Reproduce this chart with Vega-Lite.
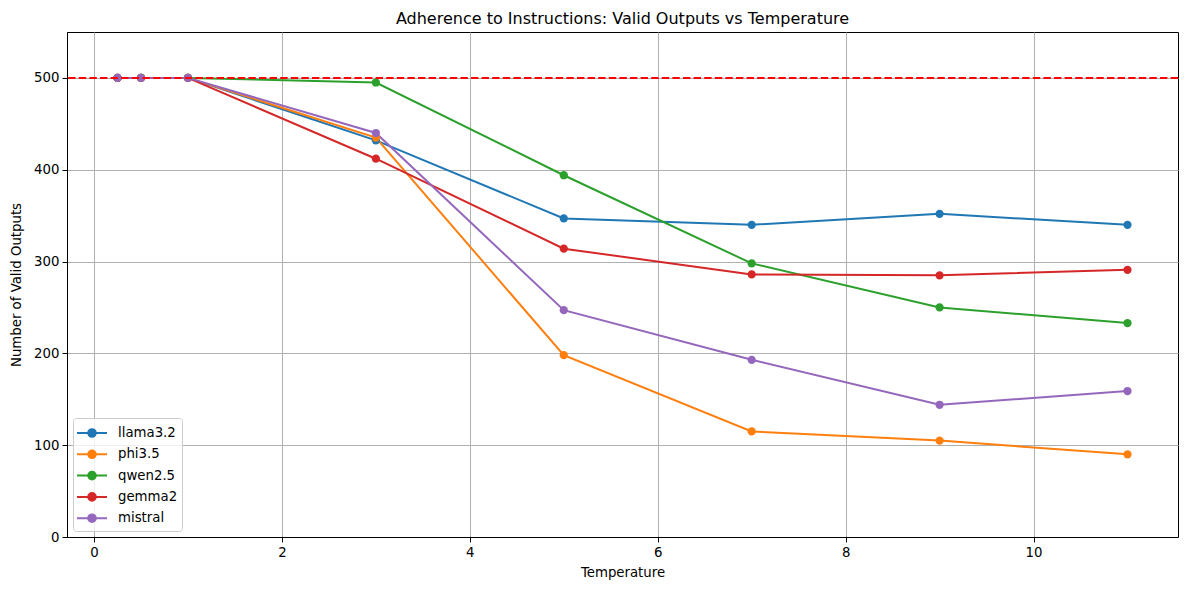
{
  "$schema": "https://vega.github.io/schema/vega-lite/v6.json",
  "autosize": "none",
  "width": 1111,
  "height": 505,
  "padding": {"left": 67, "top": 32, "right": 11, "bottom": 53},
  "background": "white",
  "title": {
    "text": "Adherence to Instructions: Valid Outputs vs Temperature",
    "font": "DejaVu Sans",
    "fontSize": 16,
    "fontWeight": "normal",
    "color": "black",
    "offset": 5
  },
  "config": {
    "font": "DejaVu Sans",
    "view": {"stroke": "black", "strokeWidth": 1},
    "axis": {
      "labelFont": "DejaVu Sans",
      "labelFontSize": 13.3,
      "labelColor": "black",
      "titleFont": "DejaVu Sans",
      "titleFontSize": 13.3,
      "titleFontWeight": "normal",
      "titleColor": "black",
      "domainColor": "black",
      "tickColor": "black",
      "tickSize": 5,
      "labelPadding": 3,
      "gridColor": "#b0b0b0",
      "gridWidth": 1,
      "gridOpacity": 1
    }
  },
  "data": {
    "values": [
      {"model": "llama3.2", "temperature": 0.25, "valid": 500},
      {"model": "llama3.2", "temperature": 0.5, "valid": 500},
      {"model": "llama3.2", "temperature": 1, "valid": 500},
      {"model": "llama3.2", "temperature": 3, "valid": 432},
      {"model": "llama3.2", "temperature": 5, "valid": 347},
      {"model": "llama3.2", "temperature": 7, "valid": 340},
      {"model": "llama3.2", "temperature": 9, "valid": 352},
      {"model": "llama3.2", "temperature": 11, "valid": 340},
      {"model": "phi3.5", "temperature": 0.25, "valid": 500},
      {"model": "phi3.5", "temperature": 0.5, "valid": 500},
      {"model": "phi3.5", "temperature": 1, "valid": 500},
      {"model": "phi3.5", "temperature": 3, "valid": 435},
      {"model": "phi3.5", "temperature": 5, "valid": 198},
      {"model": "phi3.5", "temperature": 7, "valid": 115},
      {"model": "phi3.5", "temperature": 9, "valid": 105},
      {"model": "phi3.5", "temperature": 11, "valid": 90},
      {"model": "qwen2.5", "temperature": 0.25, "valid": 500},
      {"model": "qwen2.5", "temperature": 0.5, "valid": 500},
      {"model": "qwen2.5", "temperature": 1, "valid": 500},
      {"model": "qwen2.5", "temperature": 3, "valid": 495},
      {"model": "qwen2.5", "temperature": 5, "valid": 394},
      {"model": "qwen2.5", "temperature": 7, "valid": 298},
      {"model": "qwen2.5", "temperature": 9, "valid": 250},
      {"model": "qwen2.5", "temperature": 11, "valid": 233},
      {"model": "gemma2", "temperature": 0.25, "valid": 500},
      {"model": "gemma2", "temperature": 0.5, "valid": 500},
      {"model": "gemma2", "temperature": 1, "valid": 500},
      {"model": "gemma2", "temperature": 3, "valid": 412},
      {"model": "gemma2", "temperature": 5, "valid": 314},
      {"model": "gemma2", "temperature": 7, "valid": 286},
      {"model": "gemma2", "temperature": 9, "valid": 285},
      {"model": "gemma2", "temperature": 11, "valid": 291},
      {"model": "mistral", "temperature": 0.25, "valid": 500},
      {"model": "mistral", "temperature": 0.5, "valid": 500},
      {"model": "mistral", "temperature": 1, "valid": 500},
      {"model": "mistral", "temperature": 3, "valid": 440},
      {"model": "mistral", "temperature": 5, "valid": 247},
      {"model": "mistral", "temperature": 7, "valid": 193},
      {"model": "mistral", "temperature": 9, "valid": 144},
      {"model": "mistral", "temperature": 11, "valid": 159}
    ]
  },
  "layer": [
    {
      "mark": {"type": "line", "strokeWidth": 2, "point": {"filled": true, "size": 68, "opacity": 1}},
      "encoding": {
        "x": {
          "field": "temperature",
          "type": "quantitative",
          "title": "Temperature",
          "scale": {"domain": [-0.2875, 11.5375], "nice": false, "zero": false},
          "axis": {"values": [0, 2, 4, 6, 8, 10], "titlePadding": 7}
        },
        "y": {
          "field": "valid",
          "type": "quantitative",
          "title": "Number of Valid Outputs",
          "scale": {"domain": [0, 550], "nice": false},
          "axis": {"values": [0, 100, 200, 300, 400, 500], "titlePadding": 10}
        },
        "color": {
          "field": "model",
          "type": "nominal",
          "sort": null,
          "scale": {
            "domain": ["llama3.2", "phi3.5", "qwen2.5", "gemma2", "mistral"],
            "range": ["#1f77b4", "#ff7f0e", "#2ca02c", "#d62728", "#9467bd"]
          },
          "legend": {
            "title": null,
            "orient": "bottom-left",
            "offset": 6,
            "padding": 4,
            "fillColor": "rgba(255,255,255,0.8)",
            "strokeColor": "#cccccc",
            "cornerRadius": 3,
            "labelFont": "DejaVu Sans",
            "labelFontSize": 13.3,
            "labelColor": "black",
            "symbolType": "M-1.5,0L1.5,0M-0.38,0A0.38,0.38,0,1,1,0.38,0A0.38,0.38,0,1,1,-0.38,0Z",
            "symbolSize": 400,
            "symbolStrokeWidth": 2,
            "symbolOpacity": 1,
            "labelOffset": 19,
            "rowPadding": 2.3,
            "encode": {
              "symbols": {
                "update": {
                  "fill": {"scale": "color", "field": "value"},
                  "stroke": {"scale": "color", "field": "value"},
                  "strokeWidth": {"value": 2},
                  "xc": {"value": 15}
                }
              }
            }
          }
        }
      }
    },
    {
      "data": {"values": [{"limit": 500}]},
      "mark": {"type": "rule", "color": "#ff0000", "strokeWidth": 2, "strokeDash": [7.4, 3.2]},
      "encoding": {
        "y": {"field": "limit", "type": "quantitative"}
      }
    }
  ]
}
